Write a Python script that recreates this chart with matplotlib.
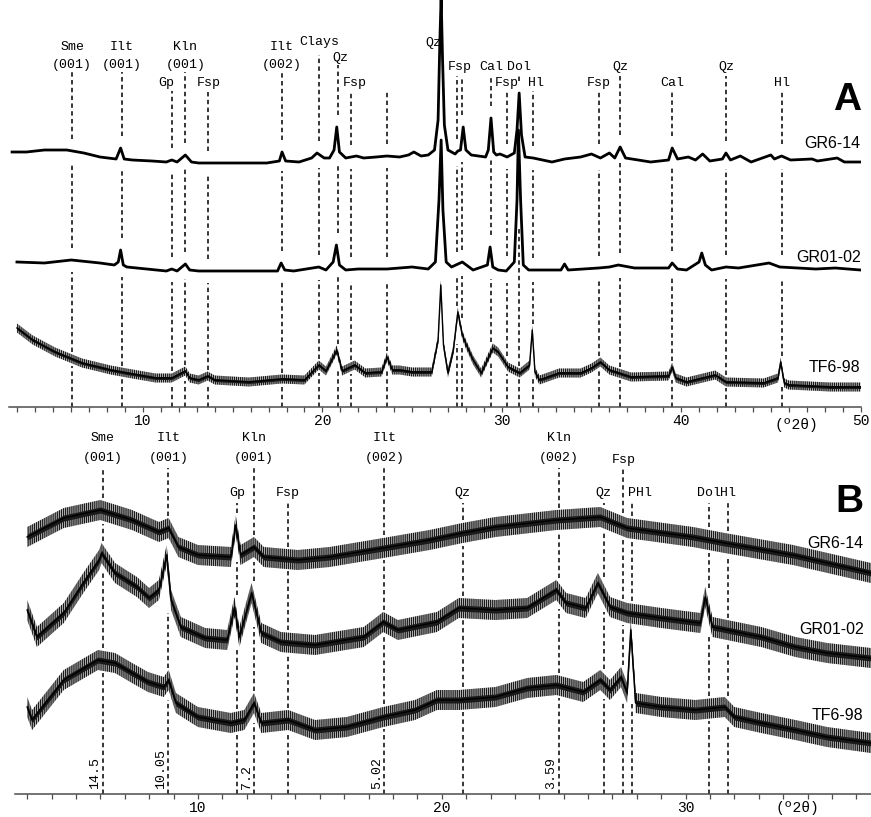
import numpy as np
import matplotlib.pyplot as plt

plt.rcParams['font.family'] = ['Liberation Mono', 'DejaVu Sans Mono']
plt.rcParams['hatch.linewidth'] = 0.9

# ---------------- panel A : whole-rock patterns (2theta deg, intensity a.u.) ----------------
a_gr614 = np.array([
    [2.7, 255], [3.5, 255], [4.5, 257], [5.75, 257], [6.7, 254], [7.6, 250], [8.5, 248],
    [8.75, 259], [8.95, 248], [9.4, 247], [10.5, 246], [11.3, 245], [11.6, 247], [11.9, 245],
    [12.36, 252], [12.7, 245], [13.1, 244], [15.0, 244], [16.9, 244], [17.6, 246], [17.75, 255],
    [17.95, 246], [18.7, 245], [19.4, 249], [19.7, 254], [20.1, 249], [20.4, 249], [20.65, 257],
    [20.8, 280], [20.95, 255], [21.3, 249], [21.9, 251], [22.3, 249], [23.0, 250], [23.6, 251],
    [24.3, 250], [24.8, 252], [25.1, 255], [25.5, 251], [25.9, 252], [26.25, 257], [26.45, 287],
    [26.55, 367], [26.62, 410], [26.7, 347], [26.8, 282], [27.0, 257], [27.4, 253], [27.55, 256],
    [27.7, 257], [27.85, 280], [28.0, 257], [28.3, 252], [29.1, 250], [29.25, 257], [29.4, 289],
    [29.55, 255], [29.7, 252], [29.9, 253], [30.3, 250], [30.7, 254], [30.85, 277], [30.97, 314],
    [31.1, 272], [31.3, 250], [31.75, 249], [32.8, 245], [33.5, 248], [34.4, 250], [35.0, 253],
    [35.5, 249], [36.0, 254], [36.3, 249], [36.6, 260], [36.9, 249], [38.3, 245], [39.3, 247],
    [39.5, 259], [39.8, 248], [40.4, 250], [40.8, 247], [41.2, 253], [41.6, 246], [42.3, 248],
    [42.5, 254], [42.75, 247], [43.3, 251], [43.9, 245], [45.0, 252], [45.2, 248], [45.6, 251],
    [46.1, 247], [47.3, 248], [47.6, 246], [48.7, 249], [49.1, 245], [50.0, 245]])

a_gr0102 = np.array([
    [2.97, 145], [4.5, 144], [6.0, 147], [7.6, 144], [8.4, 142], [8.62, 145], [8.75, 157],
    [8.9, 142], [9.1, 140], [11.3, 136], [11.6, 138], [11.9, 136], [12.36, 143], [12.6, 137],
    [13.1, 136], [17.5, 136], [17.7, 144], [17.9, 137], [18.4, 136], [19.8, 140], [20.2, 137],
    [20.6, 145], [20.78, 162], [20.95, 142], [21.3, 137], [22.0, 138], [23.6, 138], [25.0, 140],
    [25.9, 138], [26.3, 145], [26.5, 207], [26.62, 267], [26.72, 197], [26.9, 145], [27.2, 140],
    [27.8, 145], [28.4, 137], [29.2, 142], [29.35, 160], [29.5, 140], [29.8, 137], [30.25, 136],
    [30.7, 145], [30.85, 207], [30.93, 277], [31.05, 207], [31.2, 142], [31.5, 137], [33.3, 137],
    [33.5, 143], [33.7, 137], [35.4, 139], [36.0, 140], [36.5, 142], [37.4, 139], [39.3, 139],
    [39.5, 144], [39.8, 138], [40.3, 137], [41.0, 145], [41.15, 154], [41.35, 142], [41.7, 137],
    [42.5, 140], [43.2, 139], [44.9, 144], [45.5, 140], [47.5, 138], [48.6, 139], [50.0, 137]])

a_tf698 = np.array([
    [2.97, 79], [3.85, 67], [5.1, 55], [6.6, 44], [8.2, 37], [9.1, 34], [10.7, 29], [11.6, 29],
    [12.36, 36], [12.6, 29], [13.1, 27], [13.6, 31], [14.0, 27], [15.9, 25], [17.75, 28],
    [19.0, 27], [19.8, 42], [20.2, 36], [20.8, 57], [21.1, 36], [21.8, 42], [22.4, 34], [23.3, 35],
    [23.6, 50], [23.9, 37], [24.3, 37], [25.0, 35], [26.1, 35], [26.45, 67], [26.6, 122],
    [26.75, 62], [27.0, 34], [27.3, 57], [27.55, 95], [27.8, 72], [27.95, 65], [28.4, 47],
    [28.85, 34], [29.5, 59], [29.8, 55], [30.35, 40], [31.0, 34], [31.55, 42], [31.7, 77],
    [31.85, 35], [32.1, 27], [33.2, 34], [34.4, 34], [35.0, 39], [35.5, 45], [36.0, 37],
    [37.2, 30], [39.3, 31], [39.5, 40], [39.7, 29], [40.3, 25], [41.9, 32], [42.5, 25],
    [44.6, 24], [45.4, 29], [45.55, 45], [45.75, 24], [46.0, 22], [48.3, 20], [50.0, 20]])

a_peak_pos = [6.05, 8.8, 11.6, 12.36, 13.64, 17.75, 19.8, 20.85, 21.6, 23.6, 26.64, 27.5, 27.8,
              29.4, 30.3, 30.97, 31.75, 35.4, 36.6, 39.5, 42.5, 45.6]
a_peak_name = ['Sme', 'Ilt', 'Gp', 'Kln', 'Fsp', 'Ilt', 'Clays', 'Qz', 'Fsp', '', 'Qz', 'Fsp', '',
               'Cal', 'Fsp', 'Dol', 'Hl', 'Fsp', 'Qz', 'Cal', 'Qz', 'Hl']
a_peak_hkl = ['(001)', '(001)', '', '(001)', '', '(002)', '', '', '', '', '', '', '',
              '', '', '', '', '', '', '', '', '']

# ---------------- panel B : clay fraction patterns ----------------
b_gr614 = np.array([
    [3.0, 257], [4.5, 276], [6.0, 284], [7.3, 274], [8.4, 262], [8.8, 266], [9.2, 247],
    [10.0, 239], [11.35, 237], [11.55, 269], [11.75, 239], [12.3, 247], [12.7, 237], [14.1, 234],
    [15.4, 237], [17.6, 246], [19.5, 254], [20.85, 261], [22.2, 267], [24.7, 274], [26.5, 277],
    [27.6, 266], [30.3, 257], [31.6, 251], [34.4, 239], [37.6, 221]])

b_gr0102 = np.array([
    [3.0, 184], [3.4, 157], [4.5, 181], [5.3, 211], [5.95, 234], [6.05, 241], [6.6, 221],
    [7.5, 207], [8.0, 196], [8.4, 204], [8.72, 239], [8.9, 194], [9.3, 167], [10.3, 156],
    [11.2, 154], [11.5, 187], [11.7, 157], [12.2, 201], [12.6, 161], [13.4, 152], [14.8, 149],
    [16.8, 157], [17.6, 172], [18.2, 164], [19.8, 172], [20.7, 186], [22.2, 184], [23.5, 186],
    [24.7, 204], [25.1, 191], [25.9, 186], [26.4, 211], [26.9, 187], [27.6, 181], [29.0, 176],
    [30.6, 171], [30.8, 197], [31.1, 167], [33.1, 157], [34.5, 147], [35.8, 141], [37.6, 136]])

b_tf698 = np.array([
    [3.0, 87], [3.2, 74], [3.85, 94], [4.5, 114], [5.2, 124], [5.9, 134], [6.6, 131], [7.3, 121],
    [7.95, 112], [8.6, 107], [8.8, 114], [9.1, 91], [10.0, 77], [11.35, 71], [11.9, 74],
    [12.3, 91], [12.6, 71], [13.7, 74], [14.8, 64], [16.1, 67], [17.6, 77], [18.9, 84],
    [19.8, 94], [20.7, 94], [22.2, 97], [23.5, 106], [24.7, 109], [25.8, 102], [26.5, 114],
    [26.9, 104], [27.35, 117], [27.6, 101], [27.75, 164], [27.95, 91], [29.0, 87], [30.4, 84],
    [31.6, 87], [32.0, 77], [33.1, 71], [34.5, 64], [35.8, 57], [37.6, 51]])

b_peak_pos = [6.09, 8.79, 11.6, 12.3, 13.7, 17.65, 20.85, 24.8, 26.64, 27.45, 27.8, 30.95, 31.75]
b_peak_name = ['Sme', 'Ilt', 'Gp', 'Kln', 'Fsp', 'Ilt', 'Qz', 'Kln', 'Qz', 'Fsp', 'PHl', 'Dol', 'Hl']
b_peak_hkl = ['(001)', '(001)', '', '(001)', '', '(002)', '', '(002)', '', '', '', '', '']
b_dspacing_pos = [6.09, 8.79, 12.3, 17.65, 24.8]
b_dspacing = ['14.5', '10.05', '7.2', '5.02', '3.59']

samples = ['GR6-14', 'GR01-02', 'TF6-98']

# ---------------- layout (pixel based, 871 x 817 figure) ----------------
W, H = 871, 817
fig = plt.figure(figsize=(W / 100, H / 100), dpi=100)

A_BOT, A_TOP = 407, 0
B_BOT, B_TOP = 794, 425
axA = fig.add_axes([8.5 / W, 1 - A_BOT / H, 852 / W, (A_BOT - A_TOP) / H])
axB = fig.add_axes([15 / W, 1 - B_BOT / H, 856 / W, (B_BOT - B_TOP) / H])
axA.set_xlim(2.5, 50)
axA.set_ylim(0, A_BOT - A_TOP)
axB.set_xlim(2.5, 37.6)
axB.set_ylim(0, B_BOT - B_TOP)

# label rows: (text y of name, text y of hkl / none, top of dashed line), pixel rows from figure top
a_rows = ['hkl', 'hkl', 'low', 'hkl', 'low', 'hkl', 'clays', 'qz', 'low', 'low', 'big', 'mid', 'mid',
          'mid', 'low', 'mid', 'low', 'low', 'mid', 'low', 'mid', 'low']
a_row_y = {'hkl': (47, 65, 72), 'low': (83, None, 91), 'mid': (67, None, 76),
           'clays': (42, None, 55), 'qz': (58, None, 65), 'big': (43, None, 52)}
a_text_dx = {2: -0.28, 7: 0.15, 8: 0.2, 11: 0.15, 16: 0.15}

b_rows = ['hkl', 'hkl', 'low', 'hkl', 'low', 'hkl', 'low', 'hkl', 'low', 'mid', 'low', 'low', 'low']
b_row_y = {'hkl': (438, 458, 468), 'low': (493, None, 503), 'mid': (460, None, 469)}
b_text_dx = {10: 0.33}


def dashed_segments(ax, x0, top, traces, margins):
    gaps = []
    for tr, m in zip(traces, margins):
        xs = np.linspace(x0 - 0.12, x0 + 0.12, 25)
        ys = np.interp(xs, tr[:, 0], tr[:, 1])
        gaps.append((ys.min() - m, ys.max() + m))
    cur = top
    for lo, hi in sorted(gaps, key=lambda g: -g[1]):
        if hi < cur:
            ax.plot([x0, x0], [hi, cur], color='k', lw=1.1, ls=(0, (2.9, 2.2)), zorder=1)
        cur = min(cur, lo)
    if cur > 0:
        ax.plot([x0, x0], [0, cur], color='k', lw=1.1, ls=(0, (2.9, 2.2)), zorder=1)


def draw_noisy(ax, tr, outer, inner, lw):
    # scatter band of the counting noise, drawn as fine vertical hatching
    ax.fill_between(tr[:, 0], tr[:, 1] - outer, tr[:, 1] + outer, facecolor='0.8',
                    edgecolor='0.1', hatch='||||||||', lw=0, zorder=2)
    ax.fill_between(tr[:, 0], tr[:, 1] - inner, tr[:, 1] + inner, color='0.1', lw=0, zorder=3)
    ax.plot(tr[:, 0], tr[:, 1], color='k', lw=lw, zorder=4)


# ---- panel A ----
a_traces = [a_gr614, a_gr0102, a_tf698]
axA.plot(a_gr614[:, 0], a_gr614[:, 1], color='k', lw=2.0, zorder=4)
axA.plot(a_gr0102[:, 0], a_gr0102[:, 1], color='k', lw=2.0, zorder=4)
draw_noisy(axA, a_tf698, 4.5, 1.5, 1.0)

for i, (pos, name, hkl) in enumerate(zip(a_peak_pos, a_peak_name, a_peak_hkl)):
    y_name, y_hkl, y_line = a_row_y[a_rows[i]]
    tx = pos + a_text_dx.get(i, 0)
    if a_rows[i] == 'big':
        axA.text(pos - 0.02, A_BOT - y_name, name, ha='right', va='center', fontsize=9.5)
        continue
    axA.text(tx, A_BOT - y_name, name, ha='center', va='center', fontsize=9.5)
    if hkl:
        axA.text(tx, A_BOT - y_hkl, hkl, ha='center', va='center', fontsize=9.5)
    dashed_segments(axA, pos, A_BOT - y_line, a_traces, [12, 12, 6])

for name, y in zip(samples, [143, 258, 368]):
    axA.text(50, A_BOT - y, name, ha='right', va='center', fontsize=11.5, family='Liberation Sans')
axA.text(49.25, A_BOT - 100, 'A', ha='center', va='center', fontsize=28, fontweight='bold',
         family='Liberation Sans')
axA.text(46.4, -18, '(\u00ba2\u03b8)', ha='center', va='center', fontsize=10.5, clip_on=False)

# ---- panel B ----
b_traces = [b_gr614, b_gr0102, b_tf698]
for tr in b_traces:
    draw_noisy(axB, tr, 10.0, 3.0, 1.1)

for i, (pos, name, hkl) in enumerate(zip(b_peak_pos, b_peak_name, b_peak_hkl)):
    y_name, y_hkl, y_line = b_row_y[b_rows[i]]
    tx = pos + b_text_dx.get(i, 0)
    axB.text(tx, B_BOT - y_name, name, ha='center', va='center', fontsize=9.5, clip_on=False)
    if hkl:
        axB.text(tx, B_BOT - y_hkl, hkl, ha='center', va='center', fontsize=9.5)
    dashed_segments(axB, pos, B_BOT - y_line, b_traces, [12, 12, 12])

for pos, d in zip(b_dspacing_pos, b_dspacing):
    axB.text(pos - 0.3, 5, d, rotation=90, ha='center', va='bottom', fontsize=9.5)

for name, y in zip(samples, [543, 630, 715]):
    axB.text(37.3, B_BOT - y, name, ha='right', va='center', fontsize=11.5, family='Liberation Sans')
axB.text(36.7, B_BOT - 502, 'B', ha='center', va='center', fontsize=28, fontweight='bold',
         family='Liberation Sans')
axB.text(34.6, -14, '(\u00ba2\u03b8)', ha='center', va='center', fontsize=10.5, clip_on=False)

# ---- axes styling ----
for ax, majors in [(axA, [10, 20, 30, 40, 50]), (axB, [10, 20, 30])]:
    for s in ['top', 'left', 'right']:
        ax.spines[s].set_visible(False)
    ax.spines['bottom'].set_linewidth(1.1)
    ax.spines['bottom'].set_color('0.3')
    ax.set_xticks(majors)
    ax.set_xticks(np.arange(3, ax.get_xlim()[1] + 0.01, 1), minor=True)
    ax.set_yticks([])
    ax.tick_params(axis='x', which='both', direction='out', length=3.5, width=0.9,
                   color='0.3', labelsize=10.5, pad=1.5)
    ax.patch.set_alpha(0)

fig.savefig('out.png', dpi=100)
